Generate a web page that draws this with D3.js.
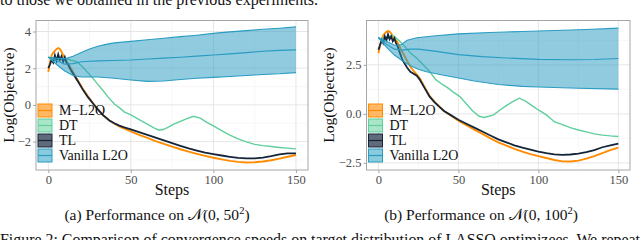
<!DOCTYPE html>
<html>
<head>
<meta charset="utf-8">
<title>Convergence speeds</title>
<script src="https://d3js.org/d3.v7.min.js"></script>
<style>
 html, body { margin: 0; padding: 0; background: white; overflow: hidden; }
 svg, svg text { font-family: "Liberation Serif", "Times New Roman", "DejaVu Serif", serif; }
 .tick-label { fill: #4d4d4d; font-size: 12.5px; }
</style>
</head>
<body>
<svg id="fig" width="640" height="240"></svg>
<script>
// ---------- data ----------
const seriesNames = ["M\u2212L2O", "DT", "TL", "Vanilla L2O"];
const xTicks = [0, 50, 100, 150];
const yTicksA = [4, 2, 0, -2];
const yTicksB = [2.5, 0, -2.5];
const yTickLabelsB = ["2.5", "0.0", "\u22122.5"];

// panel (a): N(0, 50^2)   each entry is [step, log objective]
const mlA = [[0,1.8],[1,2.3],[2,2.7],[3,2.85],[4,2.95],[5,3.05],[6,3.1],[7,3.05],[8,2.9],[9,2.7],[10,2.55],[11,2.4],[12,2.25],[13,2.1],[15,1.8],[18,1.32],[21,0.87],[24,0.47],[27,0.1],[30,-0.25],[33,-0.55],[37,-0.85],[40,-1.02],[43,-1.17],[46,-1.3],[50,-1.45],[55,-1.63],[60,-1.8],[65,-1.97],[70,-2.13],[75,-2.28],[80,-2.42],[85,-2.55],[90,-2.67],[95,-2.78],[100,-2.88],[105,-2.97],[110,-3.05],[115,-3.11],[120,-3.14],[125,-3.13],[130,-3.09],[135,-3.02],[140,-2.93],[145,-2.83],[150,-2.73]];
const dtA = [[0,2.6],[2,2.55],[4,2.6],[6,2.5],[8,2.55],[10,2.45],[12,2.5],[14,2.42],[16,2.4],[18,2.3],[21,2.05],[24,1.75],[27,1.45],[30,1.12],[33,0.8],[36,0.45],[40,0.05],[43,-0.15],[46,-0.38],[50,-0.55],[55,-0.8],[60,-1.05],[64,-1.25],[67,-1.38],[70,-1.33],[73,-1.2],[76,-1.05],[80,-0.9],[84,-0.75],[88,-0.62],[92,-0.72],[96,-0.95],[100,-1.15],[105,-1.4],[110,-1.65],[115,-1.85],[120,-2.02],[125,-2.15],[130,-2.22],[135,-2.27],[140,-2.32],[145,-2.36],[150,-2.4]];
const tlA = [[0,2.0],[1,2.2],[2,2.45],[3,2.3],[4,2.7],[5,2.4],[6,2.75],[7,2.45],[8,2.65],[9,2.35],[10,2.6],[11,2.3],[12,2.2],[13,2.0],[15,1.7],[18,1.27],[21,0.82],[24,0.42],[27,0.09],[30,-0.25],[33,-0.55],[37,-0.85],[40,-1.0],[43,-1.13],[46,-1.23],[50,-1.33],[55,-1.48],[60,-1.63],[65,-1.78],[70,-1.93],[75,-2.08],[80,-2.23],[85,-2.37],[90,-2.49],[95,-2.6],[100,-2.68],[105,-2.76],[110,-2.83],[115,-2.89],[120,-2.92],[125,-2.92],[130,-2.88],[135,-2.8],[140,-2.7],[145,-2.64],[150,-2.64]];
const vanMeanA = [[0,2.6],[5,2.42],[10,2.22],[15,2.25],[20,2.35],[30,2.4],[40,2.42],[50,2.45],[60,2.5],[70,2.55],[80,2.6],[90,2.66],[100,2.72],[110,2.78],[120,2.85],[130,2.92],[140,2.97],[150,3.0]];
const vanHighA = [[0,2.6],[5,2.55],[10,2.52],[15,2.65],[20,2.85],[25,3.05],[30,3.2],[35,3.3],[40,3.38],[50,3.46],[60,3.55],[70,3.63],[80,3.72],[90,3.8],[100,3.9],[110,3.98],[120,4.05],[130,4.12],[140,4.18],[150,4.25]];
const vanLowA = [[0,2.6],[5,2.2],[10,1.85],[15,1.6],[20,1.52],[25,1.52],[30,1.52],[40,1.45],[50,1.36],[60,1.28],[70,1.3],[80,1.38],[90,1.45],[100,1.5],[110,1.55],[120,1.6],[130,1.66],[140,1.7],[150,1.76]];

// panel (b): N(0, 100^2)
const mlB = [[0,3.1],[1,3.5],[2,3.8],[3,4.0],[4,4.1],[5,4.18],[6,4.22],[7,4.2],[8,4.1],[9,3.95],[10,3.85],[12,3.65],[14,3.3],[16,3.0],[18,2.7],[20,2.4],[22,2.2],[24,2.0],[26,1.8],[29,1.35],[32,0.92],[35,0.62],[38,0.38],[41,0.15],[45,-0.07],[50,-0.35],[55,-0.58],[60,-0.8],[65,-1.02],[70,-1.25],[75,-1.45],[80,-1.62],[85,-1.78],[90,-1.92],[95,-2.05],[100,-2.15],[105,-2.25],[110,-2.35],[115,-2.42],[120,-2.43],[125,-2.38],[130,-2.28],[135,-2.15],[140,-2.0],[145,-1.85],[150,-1.72]];
const dtB = [[0,3.85],[2,3.8],[4,3.95],[6,3.85],[8,4.0],[10,3.95],[12,3.8],[14,3.65],[17,3.38],[20,3.1],[24,2.84],[28,2.5],[32,2.16],[36,1.73],[40,1.5],[43,1.35],[47,1.1],[51,0.88],[55,0.5],[59,0.15],[63,-0.12],[66,-0.18],[69,-0.12],[72,-0.05],[76,0.2],[80,0.42],[84,0.62],[88,0.8],[92,0.65],[96,0.42],[100,0.2],[105,-0.05],[110,-0.4],[115,-0.55],[120,-0.7],[125,-0.82],[130,-0.92],[135,-1.02],[140,-1.08],[145,-1.12],[150,-1.15]];
const tlB = [[0,3.27],[1,3.5],[2,3.75],[3,3.6],[4,3.95],[5,3.75],[6,4.05],[7,3.8],[8,3.95],[9,3.7],[10,3.85],[11,3.6],[12,3.45],[13,3.2],[15,2.75],[18,2.35],[20,2.15],[24,1.95],[26,1.73],[29,1.3],[32,0.88],[35,0.6],[38,0.37],[41,0.15],[45,-0.05],[50,-0.3],[55,-0.5],[60,-0.7],[65,-0.9],[70,-1.1],[75,-1.3],[80,-1.45],[85,-1.6],[90,-1.72],[95,-1.82],[100,-1.92],[105,-2.0],[110,-2.06],[115,-2.09],[120,-2.07],[125,-2.02],[130,-1.95],[135,-1.85],[140,-1.7],[145,-1.6],[150,-1.52]];
const vanMeanB = [[0,3.89],[5,3.55],[10,3.3],[15,3.25],[20,3.3],[25,3.3],[35,3.2],[50,3.02],[65,2.92],[80,2.85],[100,2.78],[120,2.76],[135,2.77],[150,2.82]];
const vanHighB = [[0,3.89],[5,3.7],[10,3.5],[14,3.52],[18,3.75],[24,3.88],[36,3.98],[50,4.08],[70,4.15],[90,4.2],[110,4.25],[130,4.3],[150,4.37]];
const vanLowB = [[0,3.89],[5,3.4],[10,3.0],[15,2.7],[20,2.45],[25,2.27],[30,2.15],[40,1.98],[50,1.83],[60,1.68],[75,1.5],[90,1.4],[100,1.37],[125,1.31],[150,1.26]];

// ---------- drawing ----------
const serif = "'Liberation Serif', 'Times New Roman', 'DejaVu Serif', serif";
const colors = { ml: "#ff8c00", dt: "#5fcf9c", tl: "#14253a", van: "#2a9cc2" };
const svg = d3.select("#fig").attr("font-family", serif);

// running text of the page around the figure
svg.append("text").attr("x", 0).attr("y", 5).attr("font-size", 16.5).attr("fill", "#111")
   .attr("textLength", 318).attr("lengthAdjust", "spacingAndGlyphs")
   .text("to those we obtained in the previous experiments.");
svg.append("text").attr("x", 0).attr("y", 245).attr("font-size", 16.5).attr("fill", "#111")
   .attr("textLength", 640).attr("lengthAdjust", "spacingAndGlyphs")
   .text("Figure 2: Comparison of convergence speeds on target distribution of LASSO optimizees. We repeat");

function drawPanel(p) {
    const x = d3.scaleLinear().domain([-7.45, 157.3]).range([p.left, p.right]);
    const y = d3.scaleLinear().domain(p.yDomain).range([p.bottom, p.top]);
    const g = svg.append("g");

    // grid
    const minorX = [25, 75, 125];
    g.selectAll(".gxm").data(minorX).join("line")
     .attr("x1", d => x(d)).attr("x2", d => x(d)).attr("y1", p.top).attr("y2", p.bottom)
     .attr("stroke", "#f2f2f2").attr("stroke-width", 0.6);
    g.selectAll(".gym").data(p.yMinor).join("line")
     .attr("x1", p.left).attr("x2", p.right).attr("y1", d => y(d)).attr("y2", d => y(d))
     .attr("stroke", "#f2f2f2").attr("stroke-width", 0.6);
    g.selectAll(".gx").data(xTicks).join("line")
     .attr("x1", d => x(d)).attr("x2", d => x(d)).attr("y1", p.top).attr("y2", p.bottom)
     .attr("stroke", "#e6e6e6").attr("stroke-width", 1);
    g.selectAll(".gy").data(p.yTicks).join("line")
     .attr("x1", p.left).attr("x2", p.right).attr("y1", d => y(d)).attr("y2", d => y(d))
     .attr("stroke", "#e6e6e6").attr("stroke-width", 1);

    const line = d3.line().x(d => x(d[0])).y(d => y(d[1]));

    // series lines
    g.append("path").datum(p.ml).attr("d", line).attr("fill", "none")
     .attr("stroke", colors.ml).attr("stroke-width", 1.9);
    g.append("path").datum(p.dt).attr("d", line).attr("fill", "none")
     .attr("stroke", colors.dt).attr("stroke-width", 1.4);
    g.append("path").datum(p.tl).attr("d", line).attr("fill", "none")
     .attr("stroke", colors.tl).attr("stroke-width", 1.8);

    // vanilla L2O band
    const band = p.vanHigh.concat(p.vanLow.slice().reverse());
    g.append("path").attr("d", line(band) + "Z")
     .attr("fill", colors.van).attr("fill-opacity", 0.52).attr("stroke", "none");
    [p.vanHigh, p.vanMean, p.vanLow].forEach(s => {
        g.append("path").datum(s).attr("d", line).attr("fill", "none")
         .attr("stroke", colors.van).attr("stroke-width", 1.1);
    });

    // border
    g.append("rect").attr("x", p.left).attr("y", p.top)
     .attr("width", p.right - p.left).attr("height", p.bottom - p.top)
     .attr("fill", "none").attr("stroke", "#a6a6a6").attr("stroke-width", 1);

    // axes
    const xAxis = d3.axisBottom(x).tickValues(xTicks).tickSize(3).tickPadding(2);
    const xa = g.append("g").attr("transform", `translate(0,${p.bottom})`).call(xAxis);
    const yAxis = d3.axisLeft(y).tickValues(p.yTicks).tickSize(3).tickPadding(2)
                    .tickFormat((d, i) => p.yLabels[i]);
    const ya = g.append("g").attr("transform", `translate(${p.left},0)`).call(yAxis);
    [xa, ya].forEach(a => {
        a.attr("font-family", serif).attr("font-size", 12.5);
        a.select(".domain").remove();
        a.selectAll(".tick line").attr("stroke", "#a6a6a6");
        a.selectAll(".tick text").attr("fill", "#4d4d4d");
    });

    // titles
    g.append("text").attr("x", (p.left + p.right) / 2).attr("y", 195)
     .attr("text-anchor", "middle").attr("font-size", 16).attr("fill", "#111").text("Steps");
    g.append("text").attr("transform", `translate(${p.yTitleX},95) rotate(-90)`)
     .attr("text-anchor", "middle").attr("font-size", 15.5).attr("fill", "#111").text("Log(Objective)");

    const cap = g.append("text").attr("x", p.capX).attr("y", 220)
     .attr("text-anchor", "middle").attr("font-size", 15.5).attr("fill", "#111");
    cap.append("tspan").text(p.capPrefix + " Performance on ");
    cap.append("tspan").attr("font-family", "'DejaVu Sans', serif").text("\uD835\uDCA9");
    cap.append("tspan").text("(0, " + p.sigma);
    cap.append("tspan").attr("dy", -6).attr("font-size", 10.5).text("2");
    cap.append("tspan").attr("dy", 6).text(")");

    // legend
    const keyColors = [colors.ml, colors.dt, colors.tl, colors.van];
    const keyFill = ["#ffb866", "#a9e5c8", "#5f6b7a", "#8acbde"];
    seriesNames.forEach((name, i) => {
        const ky = p.legendTop + i * 15;
        g.append("rect").attr("x", p.left + 2).attr("y", ky).attr("width", 14).attr("height", 13)
         .attr("fill", keyFill[i]).attr("stroke", keyColors[i]).attr("stroke-width", 1);
        g.append("line").attr("x1", p.left + 2).attr("x2", p.left + 16)
         .attr("y1", ky + 6.5).attr("y2", ky + 6.5).attr("stroke", keyColors[i]).attr("stroke-width", 1.2);
        g.append("text").attr("x", p.left + 23).attr("y", ky + 11)
         .attr("font-size", 14).attr("fill", "#111").text(name);
    });
}

drawPanel({
    left: 36, right: 308, top: 20.5, bottom: 170,
    yDomain: [-3.55, 4.6], yTicks: yTicksA, yLabels: ["4", "2", "0", "\u22122"], yMinor: [3, 1, -1, -3],
    ml: mlA, dt: dtA, tl: tlA, vanMean: vanMeanA, vanHigh: vanHighA, vanLow: vanLowA,
    yTitleX: 14, capX: 157, capPrefix: "(a)", sigma: "50", legendTop: 104
});
drawPanel({
    left: 366.5, right: 630, top: 20.5, bottom: 170,
    yDomain: [-2.86, 4.76], yTicks: yTicksB, yLabels: yTickLabelsB, yMinor: [3.75, 1.25, -1.25],
    ml: mlB, dt: dtB, tl: tlB, vanMean: vanMeanB, vanHigh: vanHighB, vanLow: vanLowB,
    yTitleX: 334, capX: 481, capPrefix: "(b)", sigma: "100", legendTop: 104
});
</script>
</body>
</html>
